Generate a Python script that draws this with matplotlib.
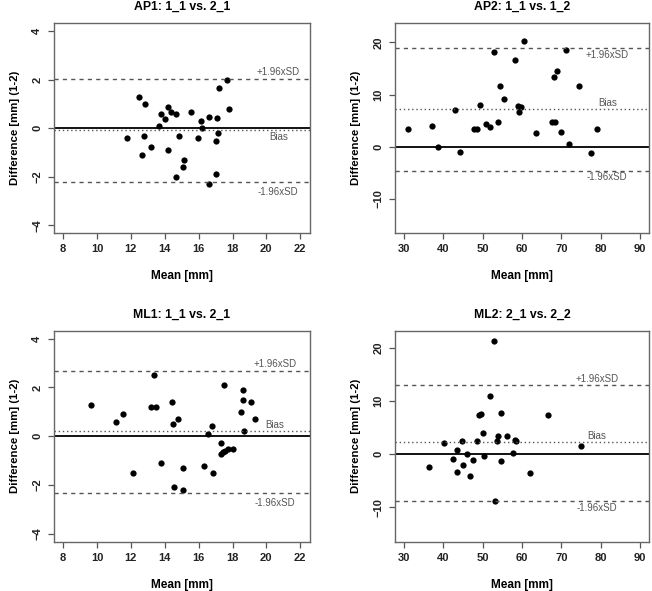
import numpy as np
import matplotlib
matplotlib.use("Agg")
import matplotlib.pyplot as plt

plt.rcParams['font.family'] = ['Liberation Sans', 'DejaVu Sans']

# AP1: 1_1 vs. 2_1
ap1_mean = [11.79, 12.45, 12.66, 12.75, 12.81, 13.2, 13.66, 13.79, 14.01, 14.17,
            14.17, 14.36, 14.68, 14.68, 14.85, 15.13, 15.07, 15.54, 15.99, 16.13,
            16.19, 16.62, 16.62, 17.05, 17.07, 17.03, 17.17, 17.23, 17.66, 17.78]
ap1_diff = [-0.41, 1.29, -1.11, -0.32, 1.0, -0.79, 0.1, 0.58, 0.4, 0.89,
            -0.9, 0.68, 0.58, -2.03, -0.32, -1.32, -1.6, 0.68, -0.41, 0.3,
            0.0, 0.48, -2.3, -1.9, 0.41, -0.52, -0.21, 1.67, 1.99, 0.79]
ap1_lines = [2.04, -0.08, -2.21]  # +1.96SD, bias, -1.96SD

# AP2: 1_1 vs. 1_2
ap2_mean = [31.1, 37.0, 38.5, 42.85, 44.3, 47.75, 48.5, 49.3, 50.8, 51.8,
            52.8, 53.8, 54.3, 55.5, 58.1, 59.0, 59.3, 59.75, 60.5, 63.6,
            67.6, 68.1, 68.4, 68.8, 69.8, 71.2, 71.9, 74.5, 77.5, 79.0]
ap2_diff = [3.32, 4.01, 0.0, 7.12, -1.06, 3.32, 3.32, 8.0, 4.33, 3.7,
            18.09, 4.78, 11.6, 9.22, 16.57, 7.88, 6.68, 7.57, 20.3, 2.69,
            4.65, 13.3, 4.71, 14.5, 2.82, 18.54, 0.53, 11.54, -1.19, 3.32]
ap2_lines = [18.89, 7.18, -4.55]

# ML1: 1_1 vs. 2_1
ml1_mean = [9.65, 11.10, 11.55, 12.14, 13.18, 13.34, 13.50, 13.75, 14.40, 14.46,
            14.54, 14.77, 15.05, 15.09, 16.31, 16.56, 16.78, 16.86, 17.33, 17.35,
            17.44, 17.52, 17.54, 17.76, 18.05, 18.50, 18.62, 18.62, 18.68, 19.09, 19.33]
ml1_diff = [1.29, 0.58, 0.89, -1.50, 1.18, 2.49, 1.18, -1.11, 1.39, 0.48,
            -2.10, 0.69, -1.32, -2.21, -1.22, 0.10, 0.40, -1.50, -0.29, -0.73,
            -0.66, 2.10, -0.60, -0.51, -0.51, 1.00, 1.88, 1.50, 0.21, 1.40, 0.69]
ml1_lines = [2.69, 0.21, -2.31]

# ML2: 2_1 vs. 2_2
ml2_mean = [36.3, 40.2, 42.4, 43.5, 43.4, 44.8, 45.0, 45.9, 46.65, 47.5,
            48.6, 49.0, 49.6, 50.0, 50.4, 51.9, 52.8, 53.0, 53.75, 53.9,
            54.6, 54.6, 56.3, 57.8, 58.1, 58.5, 62.1, 66.5, 75.1]
ml2_diff = [-2.39, 2.18, -0.87, 0.78, -3.35, 2.43, -2.01, 0.02, -4.04, -1.00,
            2.43, 7.38, 7.63, 4.08, -0.42, 11.0, 21.3, -8.79, 2.56, 3.44,
            7.69, -1.26, 3.51, 0.21, 2.62, 2.43, -3.60, 7.44, 1.61]
ml2_lines = [13.15, 2.24, -8.8]

line_names = ["+1.96xSD", "Bias", "-1.96xSD"]

GRAY = "#555555"


def bland_altman(ax, title, mean, diff, lines, xlim, ylim, xticks, yticks, label_x, offsets):
    ax.plot(mean, diff, 'o', color='black', markersize=4.5, markeredgewidth=0)
    ax.axhline(0, color='black', lw=1.3)
    styles = [(0, (3, 3)), (0, (1, 2)), (0, (3, 3))]
    # offsets: text shift from its line, in points (+ above, - below)
    for val, st, name, off in zip(lines, styles, line_names, offsets):
        ax.axhline(val, color=GRAY, lw=1.0, linestyle=st)
        ax.annotate(name, (label_x, val), xytext=(0, off), textcoords='offset points',
                    ha='center', va='center', fontsize=7.0, color=GRAY)
    ax.set_xlim(*xlim)
    ax.set_ylim(*ylim)
    ax.set_xticks(xticks)
    ax.set_yticks(yticks)
    ax.set_title(title, fontsize=8.8, fontweight='bold', pad=9.5)
    ax.set_xlabel("Mean [mm]", fontsize=8.5, fontweight='bold', labelpad=11)
    ax.set_ylabel("Difference [mm] (1-2)", fontsize=8.2, fontweight='bold', labelpad=9)
    ax.tick_params(length=4.3, width=0.9, color=GRAY, labelsize=8, pad=4)
    for lbl in ax.get_xticklabels() + ax.get_yticklabels():
        lbl.set_fontweight('bold')
        lbl.set_color('#222222')
    for lbl in ax.get_yticklabels():
        lbl.set_rotation(90)
        lbl.set_va('center')
    for sp in ax.spines.values():
        sp.set_color('#666666')
        sp.set_linewidth(1.0)


fig = plt.figure(figsize=(6.52, 5.91), dpi=100)
ax1 = fig.add_axes([0.0824, 0.6058, 0.3926, 0.3545])
ax2 = fig.add_axes([0.6054, 0.6058, 0.3905, 0.3545])
ax3 = fig.add_axes([0.0824, 0.0834, 0.3926, 0.357])
ax4 = fig.add_axes([0.6054, 0.0834, 0.3905, 0.357])

bland_altman(ax1, "AP1: 1_1 vs. 2_1", ap1_mean, ap1_diff, ap1_lines,
             (7.44, 22.56), (-4.32, 4.32), range(8, 23, 2), [-4, -2, 0, 2, 4],
             20.7, [4.5, -5, -7.5])
bland_altman(ax2, "AP2: 1_1 vs. 1_2", ap2_mean, ap2_diff, ap2_lines,
             (27.6, 92.4), (-16.5, 23.6), range(30, 91, 10), [-10, 0, 10, 20],
             81.7, [-4.8, 4.2, -4.8])
bland_altman(ax3, "ML1: 1_1 vs. 2_1", ml1_mean, ml1_diff, ml1_lines,
             (7.44, 22.56), (-4.32, 4.32), range(8, 23, 2), [-4, -2, 0, 2, 4],
             20.5, [5, 4.2, -7.2])
bland_altman(ax4, "ML2: 2_1 vs. 2_2", ml2_mean, ml2_diff, ml2_lines,
             (27.6, 92.4), (-16.5, 23.3), range(30, 91, 10), [-10, 0, 10, 20],
             79.0, [4, 4.3, -5])

fig.savefig("out.png", dpi=100)
